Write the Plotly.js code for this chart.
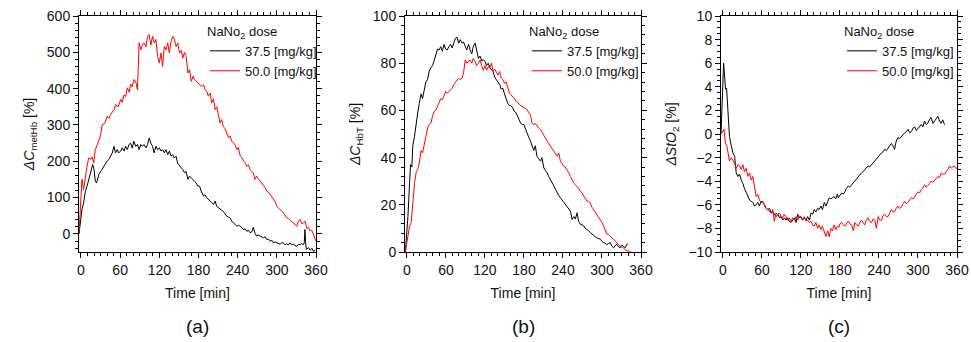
<!DOCTYPE html>
<html>
<head>
<meta charset="utf-8">
<script src="https://cdn.plot.ly/plotly-3.0.1.min.js"></script>
<style>html,body{margin:0;padding:0;background:#fff;}#chart{width:971px;height:342px;}</style>
</head>
<body>
<div id="chart"></div>
<script>
// ---------- data ----------
const seriesNames = ["37.5 [mg/kg]", "50.0 [mg/kg]"];
const legendTitle = "NaNo<sub>2</sub> dose";
const panelLabels = ["(a)", "(b)", "(c)"];
const xTitle = "Time [min]";
const yTitles = ["<i>ΔC</i><sub>metHb</sub> [%]", "<i>ΔC</i><sub>HbT</sub> [%]", "<i>ΔStO</i><sub>2</sub> [%]"];

// Panel (a) metHb
const tA_black = [-3,1.5,4,6.7,9.3,11.8,14.4,16,18,20,22,24,27.3,30,32.4,35,37.6,40,42.7,45.3,48,50.5,53,55.6,58,60.8,63.3,66,68.5,71,73.6,76,78.5,81,84,86.5,89,91.7,94,96.8,99.5,102,104.5,107,109.7,112,114.8,117.4,120,122.6,125,127.7,130.3,133,135.4,138,140.6,143,145.7,148,151,153.5,156,158.6,161,163.8,166.3,169,171.5,174,176.6,179,181.8,184,187.7,190,192.8,195,198,200.5,203,205.5,208,210.5,213,215.5,218,220.5,223,226,228.5,231,233.6,236,238.7,241,244,246.5,249,251.5,254,256.5,259,261.5,264,266.5,269,271.5,274.5,277,279.6,282,284.7,287,289.8,292.5,295,297.5,300,302.5,305,307.5,310,312.5,315,317.5,320,323,325.5,328,330.6,333,335.7,338,340.8,342,343,344,345,348.5,351,354,356,359];
const vA_black = [0,67,85,117,131,150,168,180,191,177,145,140,163,172,177,186,195,200,205,214,223,241,223,232,223,228,237,228,241,232,246,250,236,255,241,246,232,246,241,246,237,246,264,250,241,223,241,232,237,228,232,223,232,218,228,214,218,209,214,195,186,182,177,168,172,150,159,155,150,145,140,132,131,118,104,108,99,96,90,86,81,90,76,72,67,65,62,55,49,46,44,35,30,28,21,24,21,16,12,14,7,10,3,5,18,2,-6,-3,-6,-9,-11,-8,-16,-14,-20,-18,-25,-22,-25,-28,-29,-24,-25,-30,-27,-31,-25,-30,-28,-33,-34,-29,-30,-27,-30,-25,12,-20,-43,-38,-45,-40,-48,-45];
const tA_red = [-3,1.5,4,5.7,9.3,11.8,14.9,17,19.6,22,24.7,27.3,30,32.4,36.6,40.2,43,45.3,48,50.5,53,57,60.8,63,66,68.5,71,74,76,78.5,81.3,84,86.5,89,91.7,94,96.8,99.5,102,104.5,107,109.7,112.3,114.8,117.4,120,122.6,125,127.7,130.3,132.9,135.4,138,140.6,143.2,145.7,148.3,150.9,153.5,156,158.5,161,163.8,166.3,169,171.5,174,176.6,179,181.8,185,188,190,193,195,198,200,203,205.5,208,210.6,213,215.5,218,220.5,223,226,228.5,231,233.6,236,238.7,241,244,246.5,249,251.5,254,256.5,259,261.5,264,266.5,269,271.5,274.5,277,279.6,282,284.7,287,289.8,292.5,295,297.5,300,302.5,305,307.5,310,312.5,315,317.5,320,323,325.5,328,330.6,333,335.7,338,340.8,343,346,348.5,351,353.5,356,358,360];
const vA_red = [0,150,122,145,186,209,205,212,195,232,246,255,270,300,305,324,318,328,335,342,356,350,370,362,383,378,402,390,412,405,425,418,397,526,507,520,526,515,544,549,520,544,526,535,489,471,498,461,516,507,526,498,530,544,535,516,526,498,505,484,500,490,443,452,420,434,425,420,418,411,406,410,397,392,379,388,360,372,342,350,324,305,315,296,290,278,265,269,255,250,245,232,238,214,210,200,196,186,190,177,172,168,150,159,152,145,140,136,128,117,115,108,100,94,88,76,72,67,62,58,52,44,43,39,35,30,26,21,35,40,28,30,35,15,18,8,10,-2,-10,-20];

// Panel (b) HbT
const tB_black = [-2.5,1.5,4,5.5,7.5,9,11.6,14,16.6,19,21.7,24,26.7,29,31.7,34,36.8,39.3,41.8,44.3,47,49.4,52,54.4,57,59.5,62,64.5,67,69.5,72,74.6,77,79.6,82,84.7,87,89.7,92,94.8,97,99.8,102,104.8,107,110,112.5,115,117.5,120,122.5,125,127.5,130,132.5,135,137.6,140,142.6,145,147.5,150,152.7,155,157.7,160,162.8,165,167.8,170,172.5,175,177.5,180,182.5,185,187.5,190,192.5,195,197.5,200,202.5,205.5,207.5,210.6,213,215.7,218,220.8,223.5,226,228.5,231,233.5,236,238.5,241,243.5,246,249,251.5,254,256.6,259,261.7,264,266.8,269.5,272,274.5,277,279.5,282,284.5,287,289.5,292,295,297.5,300,302.5,305,307.6,310,312.8,315,318,320.5,323,325.5,328,330.5,333,335.5,338,340];
const vB_black = [0,15,29,37,36,45,49,55,59,63,67,65,69,72,73,76.5,78,79,81,83,86,85.6,87,85,88,86,85.6,87,88,86.5,89,90.6,91,88.5,90,88.5,89,87,85.6,88,85.6,84,87,88.5,85.6,82,83,81,81.5,80.7,79,80,78,77,76.5,74,73,72,71,69,69.4,67,64.5,63,62,62,61,59.6,59,57.5,56,54.5,54,54,52,50,48.5,47,45,43,45,40.5,39.5,38.5,40,35.6,34.5,33.5,32,30.7,29.5,28,26.5,25,24,23,22,21,20,19.4,18,17.3,13.8,15,14,16.6,13,11.7,11.5,11,10,9.6,9,8.2,7.5,6.8,6.5,6,5.8,5.4,4.5,4,3.8,3.2,3.6,4,2.5,1.8,2.8,3.2,2.2,1.8,2.8,2.5,1.8,3.2,3.5];
const tB_red = [-2.5,1.5,4,6.5,9,11.6,14,16.6,19,21.7,24,26.7,29,31.7,34,36.8,39.3,41.8,44.3,47,49.4,52,54.4,57,59.5,62,64.5,67,69.5,72,74.6,77,79.6,82,84.7,87,89.7,92,94.8,97,99.8,102,104.8,107,110,112.5,115,117.4,120,122.5,125,127.5,130,132.5,135,137.6,140,142.5,145,147.7,150,152.7,155,157.7,160,162.8,165,167.8,170,173,175,177.5,180,182.5,185,187.5,190,192.5,195,197.5,200,202.5,205.5,208,210.6,213,215.7,218,220.8,223.5,226,228.5,231,233.5,236,238.5,241,243.5,246,249,251.5,254,256.6,259,261.7,264,266.8,269.5,272,274.5,277,279.5,282,284.5,287,289.5,292,295,297.5,300,302.5,305,307.6,310,312.8,315,318,320.5,323,325.5,328,330.5,333,335.5,338,340.5,343,345];
const vB_red = [0,6.8,11,12.4,22,29,33.5,35,37.7,43,42,46,49,52.5,54,54.6,57.5,59.6,60,61.7,63,65,64.5,66.6,68,67.3,68,68.7,69.4,71,72,73,73.7,73,73.7,75.8,81.4,80,80.7,81.4,80,82,80.7,79,80,81.4,79,77,79,77,78.6,78,80,76.5,77.5,75.8,75,76.5,73.7,73,71.5,72,69.4,67.3,66.6,66,65.2,63.8,63.5,62.4,62,61.5,61,60.5,60.3,59,58,54.6,54,54.5,53.2,52.5,51.8,50.5,49,48,47,46,44.8,44,42.7,41.5,40.6,42,38.5,37.5,36.3,36,35,33.5,32,30.5,29.3,28.5,27.9,27,25.8,25,23.7,22.5,21.5,21.5,20.8,19,18,17,16,15,13.8,12.5,11,9.6,7.5,7.5,6.8,6,5.4,4.8,4,3.2,2.5,2.2,1.8,1,0.4,0.5,0,0];

// Panel (c) StO2
const tC_black = [-3,-1,1,2.5,4,5.6,7.7,10,12.8,15.3,18,20.4,23,25.5,28,30.7,33,35.8,38.3,41,43.4,46,48.5,51,53.5,56,58.8,61.3,64,66.4,69,71.5,74,76.7,79,81.8,84.5,87,89.4,92,94.5,97,99.6,102,104.8,107,110,112.4,115,117.5,120,122.6,125,127.8,130,133,135.4,138,140.5,143,145.6,148,150.7,153,155.9,158.4,161,163.5,166,168.6,171,173.5,176,177.5,180,182.5,185,187.7,190,192.8,195,198,200.5,203,205.5,208,210.5,213,215.5,218,220.5,223,225.5,228.5,231,233.6,236,238.7,241,244,246.5,249,251.5,254,256.5,259,261.5,264,266.5,269,271.5,274.5,277,279.6,282,284.7,287,289.8,292.5,295,297.5,300,302.5,305,307.5,310,312.5,315,317.5,320,323,325.5,328,330.6,333,335.7,338,340.8];
const vC_black = [0,4,6,4.9,3.8,3.9,1.8,-0.2,-1,-1.6,-1.9,-3.3,-3.6,-3.4,-3.9,-4.2,-4.6,-5,-5.3,-5.6,-5.7,-5.8,-6.1,-6,-5.8,-6.1,-5.7,-5.8,-6,-6.3,-6.4,-6.3,-6.7,-6.6,-6.8,-7,-6.8,-7.1,-7,-7.3,-7.1,-7.3,-7.1,-7.4,-7.5,-7.3,-7.1,-7.5,-6.8,-7.1,-7,-7.3,-7.1,-7.3,-7,-7.3,-6.7,-6.8,-6.4,-6.6,-6.3,-6.4,-6.1,-6.4,-5.8,-6.1,-5.7,-5.4,-5.5,-5.4,-5.3,-5.5,-5.1,-5.4,-5.2,-5,-5.1,-4.9,-4.6,-4.4,-4.5,-4.3,-4.2,-4,-3.8,-3.6,-3.5,-3.3,-3.2,-3,-2.9,-2.7,-2.8,-2.6,-2.4,-2.3,-2.1,-1.9,-1.8,-1.6,-1.5,-1.3,-1.4,-1.2,-1,-0.8,-1,-1.3,-0.6,-0.3,-0.4,-0.2,0,0.1,0.2,0.4,0.1,0.2,0.5,0.6,0.3,0.5,0.7,0.8,0.6,1.1,0.8,0.9,1.2,1.4,0.9,1.1,1.3,1.5,1.1,0.9,1.2,0.8];
const tC_red = [-3,-0.5,1.5,2.5,4,6,7.7,9,10,12.8,15.3,18,20.4,23,25.5,28,30.7,33,35.8,38.3,41,43.4,46,48.5,51,53.6,56,58.8,61.3,64,66.4,69,71.5,74,76.7,79,81.5,84,87,89.4,92,94.5,97,99.6,102,104.8,107,110,112.4,115,117.5,120,122.6,125,127.8,130,133,135.4,138,140.5,143,145.6,148,150.7,153,155.9,158.4,161,163.5,166,168.6,171,173.7,176,178.5,180,182.5,185,187.7,190,192.8,195,198,200.5,203,205.5,208,210.5,213,215.5,218,220.5,223,225.5,228.5,231,233.6,236,238.7,241,244,246.5,249,251.5,254,256.5,259,261.5,264,266.5,269,271.5,274.5,277,279.6,282,284.7,287,289.8,292.5,295,297.5,300,302.5,305,307.5,310,312.5,315,317.5,320,323,325.5,328,330.6,333,335.7,338,340.8,343,346,348.5,351,353.5,356,358,360];
const vC_red = [0,0.15,0.4,-0.3,-0.8,-1,-1.6,-1.9,-2.3,-2,-2.2,-2.5,-2.9,-2.6,-2.7,-3,-2.6,-3.2,-2.9,-3.6,-3.3,-3.9,-3.6,-4.4,-5.3,-5.1,-5.6,-5.8,-5.7,-6.1,-6.3,-6.4,-6.6,-6.7,-6.4,-7.4,-6.7,-6.8,-6.7,-7,-7.1,-6.8,-7,-7.3,-7.1,-7.4,-7.1,-7.3,-7,-7.3,-7,-7.1,-7.3,-7,-7.4,-7.3,-7.5,-7.4,-7.7,-7.8,-7.5,-8,-7.7,-8.1,-7.8,-8.2,-8.7,-8.2,-8.7,-8,-8.2,-7.7,-8.1,-7.8,-7.9,-7.6,-7.5,-7.7,-7.8,-7.6,-7.4,-7.6,-7.7,-8.2,-7.5,-7.7,-7.8,-7.5,-7.3,-7.5,-7.7,-7.3,-7.1,-7.4,-7.5,-7.2,-7.3,-8,-7,-7.3,-7.3,-6.9,-6.8,-7,-7,-6.7,-6.4,-6.6,-6.6,-6.3,-6.1,-6.3,-6.2,-5.9,-5.7,-5.9,-5.8,-5.6,-5.4,-5.5,-5.3,-5.1,-4.9,-5,-4.7,-4.6,-4.3,-4.5,-4.4,-4.2,-4,-4.1,-3.9,-3.8,-3.6,-3.7,-3.3,-3.4,-3.4,-3.2,-3,-2.7,-2.9,-2.8,-2.7,-2.9,-2.9];

// ---------- build ----------
const FONT = "Arial, 'Liberation Sans', sans-serif";
const colors = ["#000000", "#ff0000"];
const panels = [
  {t: [tA_black, tA_red], v: [vA_black, vA_red], yr: [-50, 600], ydt: 100, ymin: 20},
  {t: [tB_black, tB_red], v: [vB_black, vB_red], yr: [0, 100], ydt: 20, ymin: 4},
  {t: [tC_black, tC_red], v: [vC_black, vC_red], yr: [-10, 10], ydt: 2, ymin: 0.5}
];
const xRange = [-3, 360];
const xDomains = [[79/971, 316/971], [405/971, 641/971], [721/971, 957/971]];
const yDomain = [(342-252)/342, (342-16)/342];
const legendX = [205/971, 527/971, 842/971];

const traces = [];
const layout = {
  width: 971, height: 342,
  margin: {l: 0, r: 0, t: 0, b: 0},
  paper_bgcolor: "#fff", plot_bgcolor: "#fff",
  font: {family: FONT, size: 13, color: "#111"},
  annotations: []
};

const tickStyle = {
  ticks: "outside", ticklen: 5, tickwidth: 1, tickcolor: "#000",
  showgrid: false, zeroline: false,
  tickfont: {family: FONT, size: 14, color: "#111"}
};

panels.forEach((p, i) => {
  const n = i === 0 ? "" : String(i + 1);
  const m = String(i + 4);
  const leg = "legend" + n;
  for (let s = 0; s < 2; s++) {
    traces.push({
      x: p.t[s], y: p.v[s], type: "scatter", mode: "lines",
      name: seriesNames[s], xaxis: "x" + n, yaxis: "y" + n, legend: leg,
      line: {color: colors[s], width: 1}
    });
  }
  // empty helper trace so the mirrored (top / right) tick axes are drawn
  traces.push({x: [], y: [], type: "scatter", mode: "lines", xaxis: "x" + m, yaxis: "y" + m, showlegend: false, hoverinfo: "skip"});

  const xMinor = {ticks: "outside", ticklen: 3, dtick: 10, tick0: 0, tickcolor: "#000"};
  const yMinor = {ticks: "outside", ticklen: 3, dtick: p.ymin, tick0: 0, tickcolor: "#000"};

  layout["xaxis" + n] = Object.assign({}, tickStyle, {
    domain: xDomains[i], anchor: "y" + n, range: xRange, dtick: 60, tick0: 0,
    showline: true, linecolor: "#000", linewidth: 1, mirror: true,
    minor: xMinor,
    title: {text: xTitle, font: {family: FONT, size: 14, color: "#111"}, standoff: 11}
  });
  layout["yaxis" + n] = Object.assign({}, tickStyle, {
    domain: yDomain, anchor: "x" + n, range: p.yr, dtick: p.ydt, tick0: 0,
    showline: true, linecolor: "#000", linewidth: 1, mirror: true,
    minor: yMinor,
    title: {text: yTitles[i], font: {family: FONT, size: 14, color: "#111"}, standoff: 8}
  });
  // top and right tick axes
  layout["xaxis" + m] = Object.assign({}, tickStyle, {
    overlaying: "x" + n, anchor: "y" + n, side: "top", range: xRange, dtick: 60, tick0: 0,
    showticklabels: false, showline: false, minor: xMinor
  });
  layout["yaxis" + m] = Object.assign({}, tickStyle, {
    overlaying: "y" + n, anchor: "x" + n, side: "right", range: p.yr, dtick: p.ydt, tick0: 0,
    showticklabels: false, showline: false, minor: yMinor
  });

  layout[leg] = {
    x: legendX[i], xanchor: "left", y: 1 - 19/342, yanchor: "top",
    bgcolor: "rgba(0,0,0,0)", borderwidth: 0,
    font: {family: FONT, size: 13, color: "#111"},
    title: {text: legendTitle, font: {family: FONT, size: 13, color: "#111"}},
    tracegroupgap: 0, itemwidth: 30
  };
  layout.annotations.push({
    text: panelLabels[i], xref: "paper", yref: "paper",
    x: (xDomains[i][0] + xDomains[i][1]) / 2, y: 1 - 326/342,
    xanchor: "center", yanchor: "middle", showarrow: false,
    font: {family: FONT, size: 19, color: "#111"}
  });
});

Plotly.newPlot("chart", traces, layout, {staticPlot: true, displayModeBar: false});
</script>
</body>
</html>
